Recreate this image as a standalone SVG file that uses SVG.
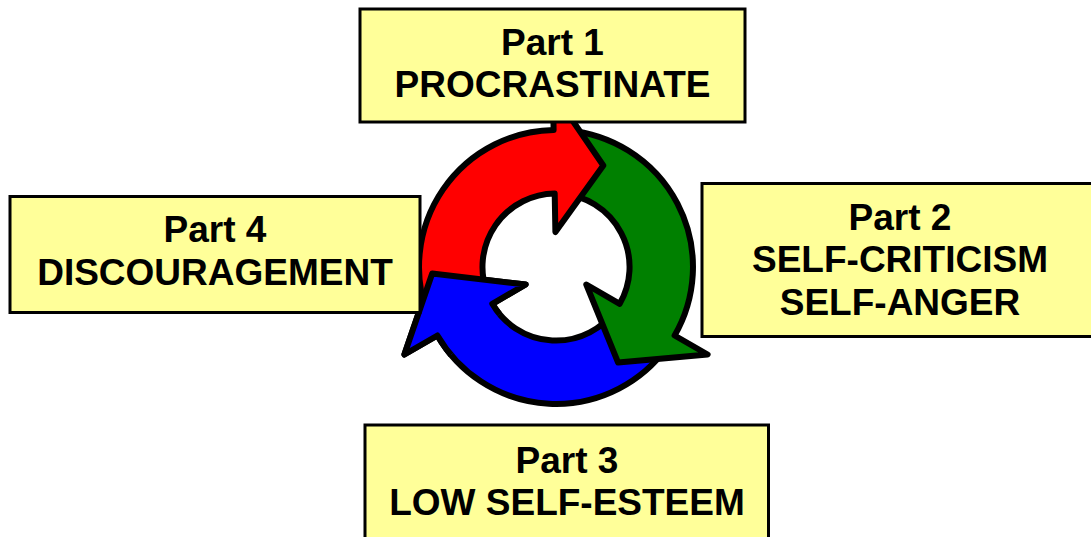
<svg xmlns="http://www.w3.org/2000/svg" xmlns:xlink="http://www.w3.org/1999/xlink" width="1091" height="537" viewBox="0 0 1091 537">
  <style>
    .box { fill: #FFFF99; stroke: #000; stroke-width: 3; }
    .label { font-family: "Liberation Sans", Arial, sans-serif; font-weight: bold; font-size: 37px; fill: #000; text-anchor: middle; }
    .arrow { stroke: #000; stroke-width: 6; stroke-linejoin: round; }
  </style>
  <defs>
    <!-- wedge past the blue arrow's back edge, so its head can sit over the red tail -->
    <clipPath id="blueHeadClip">
      <polygon points="556,267 326,460 256,267 310,95"/>
    </clipPath>
    <path id="blueArrowShape" d="M666.8,347.5 A137,137 0 0 1 437.4,335.5 L404.4,354.5 L432.2,273.5 L525.7,284.5 L492.3,303.8 A73.5,73.5 0 0 0 615.5,310.2 Z"/>
  </defs>
  <rect width="1091" height="537" fill="#fff"/>

  <!-- circular cycle of three arrows -->
  <g id="connectors">
    <use xlink:href="#blueArrowShape" href="#blueArrowShape" class="arrow" fill="#0000FF"/>
    <path id="greenArrow" class="arrow" fill="#008000" d="M567.9,130.5 A137,137 0 0 1 674.6,335.5 L707.6,354.5 L618.1,362.6 L586.3,284.5 L619.7,303.8 A73.5,73.5 0 0 0 562.4,193.8 Z"/>
    <path id="redArrow" class="arrow" fill="#FF0000" d="M427.3,313.9 A137,137 0 0 1 553.6,130 L553,92 L603.3,165.5 L555.4,232 L554.7,193.5 A73.5,73.5 0 0 0 486.9,292.1 Z"/>
    <use xlink:href="#blueArrowShape" href="#blueArrowShape" class="arrow" fill="#0000FF" clip-path="url(#blueHeadClip)"/>
  </g>

  <g id="part1">
    <rect class="box" x="360" y="9" width="385" height="113"/>
    <text class="label" x="552.5" y="55">Part 1</text>
    <text class="label" x="552.5" y="96.5">PROCRASTINATE</text>
  </g>

  <g id="part2">
    <rect class="box" x="702" y="183.5" width="396" height="153"/>
    <text class="label" x="900" y="230">Part 2</text>
    <text class="label" x="900" y="272">SELF-CRITICISM</text>
    <text class="label" x="900" y="315">SELF-ANGER</text>
  </g>

  <g id="part3">
    <rect class="box" x="365" y="425" width="403.5" height="130"/>
    <text class="label" x="567" y="473">Part 3</text>
    <text class="label" x="567" y="515">LOW SELF-ESTEEM</text>
  </g>

  <g id="part4">
    <rect class="box" x="10" y="196.5" width="410" height="116"/>
    <text class="label" x="215" y="241.5">Part 4</text>
    <text class="label" x="215" y="285">DISCOURAGEMENT</text>
  </g>
</svg>
